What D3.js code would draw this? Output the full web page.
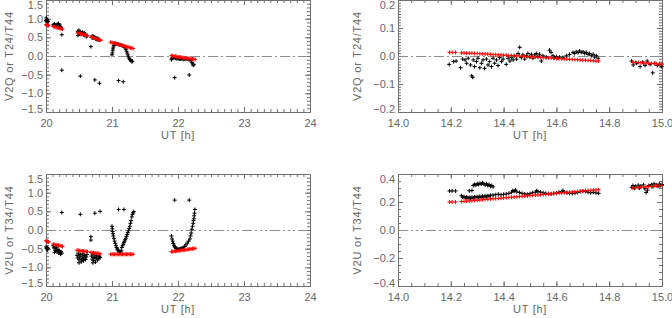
<!DOCTYPE html>
<html>
<head>
<meta charset="utf-8">
<script src="https://cdn.jsdelivr.net/npm/d3@7"></script>
<style>
  body { margin: 0; background: #fff; }
  svg { display: block; }
</style>
</head>
<body>
<svg id="chart" width="672" height="318"></svg>
<script>
// tick labels
const leftXTicks = [20, 21, 22, 23, 24];
const rightXTicks = [14.0, 14.2, 14.4, 14.6, 14.8, 15.0];
const leftYTicks = [-1.5, -1.0, -0.5, 0.0, 0.5, 1.0, 1.5];
const topRightYTicks = [-0.2, -0.1, 0.0, 0.1, 0.2];
const bottomRightYTicks = [-0.4, -0.2, 0.0, 0.2, 0.4];

// [UT hour, ratio]
const blackTL = [
  [20.000,0.95],[20.004,1.02],[20.008,0.93],[20.012,0.98],[20.018,0.91],[20.024,0.96],[20.030,0.92],
  [20.11,0.84],[20.12,0.81],[20.13,0.86],[20.14,0.80],[20.15,0.83],[20.16,0.79],[20.17,0.85],[20.18,0.82],
  [20.19,0.87],[20.20,0.80],[20.21,0.83],[20.22,0.78],[20.23,0.75],
  [20.24,0.57],[20.24,-0.38],
  [20.48,0.66],[20.485,0.55],[20.49,0.62],[20.50,0.69],[20.51,0.60],[20.52,0.63],[20.53,0.58],[20.54,0.61],
  [20.55,0.64],[20.56,0.60],[20.57,0.57],[20.58,0.62],[20.59,0.55],[20.60,0.58],[20.61,0.52],[20.62,0.55],
  [20.52,-0.54],
  [20.68,0.25],[20.69,0.50],[20.70,0.54],[20.71,0.48],[20.72,0.52],[20.73,0.49],[20.74,0.51],[20.75,0.46],
  [20.76,0.48],[20.77,0.44],[20.78,0.46],[20.79,0.47],[20.80,0.43],[20.81,0.44],
  [20.74,-0.64],[20.81,-0.73],
  [21.00,0.03],[21.005,0.08],[21.01,0.14],[21.015,0.19],[21.02,0.24],[21.03,0.28],[21.04,0.31],[21.05,0.33],
  [21.06,0.33],[21.08,0.32],[21.10,0.31],[21.12,0.30],[21.14,0.29],[21.16,0.27],[21.18,0.26],[21.20,0.22],
  [21.21,0.18],[21.22,0.13],[21.23,0.08],[21.24,0.03],[21.25,-0.02],[21.26,-0.06],[21.27,-0.09],[21.28,-0.11],
  [21.29,-0.13],[21.30,-0.15],[21.31,-0.14],
  [21.10,-0.66],[21.17,-0.69],
  [21.90,-0.10],[21.91,-0.06],[21.92,-0.04],[21.94,-0.05],[21.96,-0.06],[21.98,-0.07],[22.00,-0.07],[22.02,-0.08],
  [22.04,-0.08],[22.06,-0.08],[22.08,-0.09],[22.10,-0.08],[22.12,-0.09],[22.14,-0.08],[22.16,-0.09],[22.18,-0.10],
  [22.20,-0.12],[22.21,-0.17],[22.22,-0.21],[22.23,-0.25],[22.24,-0.23],
  [21.95,-0.58],[22.17,-0.51]
];
const redTL = [
  [20.00,0.84],[20.01,0.83],[20.02,0.83],[20.03,0.82],[20.04,0.82],
  [20.11,0.79],[20.13,0.78],[20.15,0.77],[20.17,0.76],[20.19,0.75],[20.21,0.74],[20.23,0.73],[20.25,0.72],
  [20.48,0.62],[20.50,0.61],[20.52,0.60],[20.54,0.59],[20.56,0.58],[20.58,0.57],[20.60,0.56],[20.62,0.55],[20.63,0.54],
  [20.69,0.51],[20.71,0.50],[20.73,0.48],[20.75,0.47],[20.77,0.46],[20.79,0.45],[20.81,0.43],[20.83,0.42],
  [20.98,0.37],[21.00,0.36],[21.02,0.35],[21.04,0.34],[21.06,0.33],[21.08,0.32],[21.10,0.31],[21.12,0.30],
  [21.14,0.29],[21.16,0.28],[21.18,0.27],[21.20,0.26],[21.22,0.25],[21.24,0.24],[21.26,0.23],[21.28,0.22],
  [21.30,0.21],[21.32,0.20],
  [21.90,0.01],[21.92,0.00],[21.94,0.00],[21.96,-0.01],[21.98,-0.02],[22.00,-0.02],[22.02,-0.03],[22.04,-0.03],
  [22.06,-0.04],[22.08,-0.05],[22.10,-0.05],[22.12,-0.06],[22.14,-0.06],[22.16,-0.07],[22.18,-0.07],[22.20,-0.08],
  [22.22,-0.08],[22.24,-0.09],[22.26,-0.09]
];

const blackBL = [
  [20.00,-0.45],[20.008,-0.50],[20.015,-0.47],[20.022,-0.53],[20.03,-0.49],
  [20.11,-0.42],[20.12,-0.48],[20.13,-0.45],[20.13,-0.60],[20.14,-0.55],[20.15,-0.50],[20.16,-0.46],[20.17,-0.58],
  [20.18,-0.52],[20.19,-0.62],[20.20,-0.55],[20.21,-0.60],[20.22,-0.65],[20.23,-0.58],[20.24,-0.62],
  [20.24,0.47],
  [20.47,-0.68],[20.48,-0.75],[20.49,-0.62],[20.50,-0.80],[20.50,-0.88],[20.51,-0.72],[20.52,-0.66],[20.53,-0.78],
  [20.54,-0.85],[20.55,-0.70],[20.56,-0.76],[20.56,-0.64],[20.57,-0.82],[20.58,-0.68],[20.59,-0.74],[20.60,-0.79],
  [20.61,-0.72],[20.62,-0.66],
  [20.52,0.42],
  [20.68,-0.18],[20.68,-0.27],[20.69,-0.70],[20.70,-0.78],[20.71,-0.65],[20.71,-0.88],[20.72,-0.82],[20.73,-0.74],
  [20.74,-0.70],[20.75,-0.86],[20.76,-0.76],[20.77,-0.68],[20.78,-0.80],[20.79,-0.72],[20.80,-0.77],[20.81,-0.70],
  [20.82,-0.74],
  [20.74,0.45],[20.82,0.50],
  [21.00,0.10],[21.005,0.03],[21.01,-0.04],[21.015,-0.10],[21.02,-0.16],[21.03,-0.23],[21.04,-0.30],[21.05,-0.36],
  [21.06,-0.42],[21.07,-0.47],[21.08,-0.51],[21.09,-0.54],[21.10,-0.56],[21.11,-0.58],[21.12,-0.59],[21.13,-0.58],
  [21.14,-0.55],[21.15,-0.47],[21.16,-0.42],[21.17,-0.38],[21.18,-0.34],[21.19,-0.30],[21.20,-0.26],[21.21,-0.22],
  [21.22,-0.17],[21.23,-0.12],[21.24,-0.07],[21.25,-0.02],[21.26,0.04],[21.27,0.10],[21.28,0.18],[21.29,0.25],
  [21.30,0.35],[21.31,0.42],[21.32,0.46],[21.33,0.49],
  [21.10,0.55],[21.18,0.55],
  [21.90,-0.16],[21.91,-0.24],[21.92,-0.30],[21.93,-0.36],[21.94,-0.41],[21.95,-0.45],[21.96,-0.47],[21.97,-0.49],
  [21.98,-0.50],[22.00,-0.51],[22.02,-0.51],[22.04,-0.50],[22.06,-0.49],[22.08,-0.47],[22.10,-0.44],[22.12,-0.40],
  [22.14,-0.35],[22.16,-0.30],[22.18,-0.24],[22.19,-0.16],[22.20,-0.08],[22.21,0.02],[22.22,0.10],[22.23,0.18],
  [22.235,0.25],[22.24,0.30],[22.245,0.38],[22.25,0.45],[22.255,0.55],
  [21.95,0.80],[22.17,0.80]
];
const redBL = [
  [20.00,-0.29],[20.01,-0.30],[20.02,-0.31],[20.03,-0.31],[20.04,-0.32],
  [20.11,-0.38],[20.13,-0.39],[20.15,-0.40],[20.17,-0.40],[20.19,-0.41],[20.21,-0.42],[20.23,-0.43],[20.25,-0.44],
  [20.47,-0.54],[20.49,-0.55],[20.51,-0.55],[20.53,-0.56],[20.55,-0.56],[20.57,-0.57],[20.59,-0.57],[20.61,-0.58],[20.63,-0.58],
  [20.68,-0.60],[20.70,-0.61],[20.72,-0.61],[20.74,-0.62],[20.76,-0.62],[20.78,-0.63],[20.80,-0.63],[20.82,-0.64],
  [20.98,-0.65],[21.00,-0.65],[21.02,-0.65],[21.04,-0.65],[21.06,-0.65],[21.08,-0.65],[21.10,-0.65],[21.12,-0.65],
  [21.14,-0.65],[21.16,-0.65],[21.18,-0.65],[21.20,-0.65],[21.22,-0.65],[21.24,-0.65],[21.26,-0.65],[21.28,-0.65],
  [21.30,-0.65],[21.32,-0.65],
  [21.90,-0.58],[21.92,-0.58],[21.94,-0.57],[21.96,-0.57],[21.98,-0.56],[22.00,-0.56],[22.02,-0.55],[22.04,-0.55],
  [22.06,-0.54],[22.08,-0.54],[22.10,-0.53],[22.12,-0.53],[22.14,-0.52],[22.16,-0.52],[22.18,-0.51],[22.20,-0.51],
  [22.22,-0.50],[22.24,-0.50],[22.26,-0.49]
];

const blackTR = [
  [14.194,-0.030],[14.210,-0.020],[14.220,-0.018],
  [14.237,-0.042],[14.245,-0.011],[14.254,-0.014],[14.260,-0.026],[14.266,-0.008],[14.275,-0.032],[14.279,-0.071],
  [14.283,-0.076],[14.285,-0.014],[14.290,-0.038],[14.297,-0.020],[14.303,-0.008],[14.310,-0.042],[14.316,-0.026],
  [14.322,-0.014],[14.328,-0.044],[14.335,-0.011],[14.341,-0.032],[14.347,-0.020],[14.354,-0.038],[14.360,-0.008],
  [14.366,-0.026],[14.373,-0.014],[14.379,-0.034],[14.385,-0.006],[14.392,-0.020],[14.398,-0.011],[14.410,-0.030],
  [14.417,-0.008],[14.424,-0.018],[14.430,-0.006],[14.436,-0.014],[14.442,0.001],[14.449,-0.011],[14.455,0.009],
  [14.461,0.031],[14.467,-0.006],[14.473,0.004],[14.480,-0.011],[14.486,0.001],[14.492,0.009],[14.499,-0.004],
  [14.505,0.006],[14.511,-0.008],[14.518,0.004],[14.524,0.009],[14.530,-0.002],[14.536,0.006],[14.543,-0.018],
  [14.549,0.001],[14.562,-0.004],[14.574,0.021],[14.580,0.013],[14.587,0.001],[14.593,-0.006],[14.600,-0.002],
  [14.606,-0.008],[14.612,-0.004],[14.625,-0.006],[14.638,0.001],[14.650,0.006],[14.663,0.013],[14.669,0.009],
  [14.675,0.015],[14.682,0.012],[14.688,0.018],[14.694,0.013],[14.701,0.015],[14.707,0.009],[14.713,0.013],
  [14.720,0.006],[14.726,0.009],[14.732,0.001],[14.739,0.006],[14.745,-0.004],[14.751,0.001],[14.758,-0.008],
  [14.885,-0.018],[14.891,-0.032],[14.904,-0.026],[14.917,-0.038],[14.927,-0.022],[14.936,-0.034],[14.944,-0.018],
  [14.955,-0.030],[14.965,-0.060],[14.973,-0.026],[14.982,-0.034],[14.992,-0.030],[14.999,-0.038]
];
const redTR = [
  [14.195,0.013],[14.205,0.013],[14.218,0.013],
  [14.24,0.011],[14.25,0.011],[14.26,0.010],[14.27,0.010],[14.28,0.010],[14.29,0.009],[14.30,0.009],[14.31,0.008],
  [14.32,0.008],[14.33,0.007],[14.34,0.007],[14.35,0.006],[14.36,0.005],[14.37,0.005],[14.38,0.004],[14.39,0.004],
  [14.40,0.003],[14.41,0.003],[14.42,0.002],[14.43,0.001],[14.44,0.001],[14.45,0.000],[14.46,0.000],[14.47,-0.001],
  [14.48,-0.001],[14.49,-0.002],[14.50,-0.003],[14.51,-0.003],[14.52,-0.004],[14.53,-0.004],[14.54,-0.005],
  [14.55,-0.006],[14.56,-0.006],[14.57,-0.007],[14.58,-0.007],[14.59,-0.008],[14.60,-0.009],[14.61,-0.009],
  [14.62,-0.010],[14.63,-0.010],[14.64,-0.011],[14.65,-0.012],[14.66,-0.012],[14.67,-0.013],[14.68,-0.013],
  [14.69,-0.014],[14.70,-0.015],[14.71,-0.015],[14.72,-0.016],[14.73,-0.016],[14.74,-0.017],[14.75,-0.018],[14.76,-0.018],
  [14.89,-0.022],[14.90,-0.023],[14.91,-0.023],[14.92,-0.024],[14.93,-0.025],[14.94,-0.025],[14.95,-0.026],
  [14.96,-0.027],[14.97,-0.027],[14.98,-0.028],[14.99,-0.029],[15.00,-0.029]
];

const blackBR = [
  [14.195,0.279],[14.205,0.279],[14.218,0.279],
  [14.240,0.245],[14.245,0.235],[14.250,0.238],[14.255,0.230],[14.260,0.236],[14.265,0.228],[14.270,0.233],
  [14.275,0.227],[14.280,0.234],[14.285,0.229],[14.290,0.236],[14.295,0.231],[14.300,0.238],[14.305,0.232],
  [14.310,0.240],[14.315,0.234],[14.320,0.241],[14.325,0.236],[14.330,0.243],[14.335,0.238],[14.340,0.245],
  [14.345,0.240],[14.350,0.248],
  [14.270,0.280],[14.280,0.282],
  [14.285,0.318],[14.290,0.326],[14.295,0.320],[14.300,0.330],[14.305,0.325],[14.310,0.333],[14.315,0.328],
  [14.320,0.336],[14.325,0.330],[14.330,0.322],[14.335,0.330],[14.340,0.318],[14.345,0.325],[14.350,0.312],
  [14.355,0.318],[14.360,0.308],
  [14.36,0.250],[14.37,0.252],[14.38,0.256],[14.39,0.252],[14.40,0.255],[14.41,0.258],[14.42,0.262],[14.43,0.270],
  [14.435,0.282],[14.44,0.276],[14.445,0.286],[14.45,0.272],[14.46,0.268],[14.47,0.262],[14.48,0.258],[14.49,0.255],
  [14.50,0.260],[14.51,0.266],[14.52,0.270],[14.525,0.280],[14.53,0.274],[14.54,0.270],[14.55,0.266],[14.56,0.262],
  [14.57,0.260],[14.58,0.258],[14.59,0.262],[14.60,0.264],[14.61,0.270],[14.62,0.274],[14.625,0.282],[14.63,0.272],
  [14.64,0.266],[14.65,0.262],[14.66,0.260],[14.67,0.263],[14.68,0.268],[14.69,0.274],[14.70,0.278],[14.71,0.276],
  [14.72,0.270],[14.73,0.266],[14.74,0.270],[14.75,0.265],[14.76,0.262],
  [14.885,0.305],[14.890,0.318],[14.895,0.298],[14.900,0.312],[14.910,0.320],[14.915,0.300],[14.920,0.315],
  [14.930,0.322],[14.935,0.295],[14.940,0.268],[14.945,0.285],[14.950,0.318],[14.960,0.325],[14.965,0.310],
  [14.970,0.330],[14.980,0.322],[14.985,0.312],[14.990,0.328],[14.995,0.318],[15.000,0.325]
];
const redBR = [
  [14.195,0.200],[14.205,0.200],[14.218,0.200],
  [14.24,0.203],[14.25,0.205],[14.26,0.206],[14.27,0.208],[14.28,0.209],[14.29,0.211],[14.30,0.213],[14.31,0.214],
  [14.32,0.216],[14.33,0.218],[14.34,0.219],[14.35,0.221],[14.36,0.223],[14.37,0.224],[14.38,0.226],[14.39,0.228],
  [14.40,0.229],[14.41,0.231],[14.42,0.232],[14.43,0.234],[14.44,0.236],[14.45,0.237],[14.46,0.239],[14.47,0.241],
  [14.48,0.242],[14.49,0.244],[14.50,0.246],[14.51,0.247],[14.52,0.249],[14.53,0.250],[14.54,0.252],[14.55,0.254],
  [14.56,0.255],[14.57,0.257],[14.58,0.259],[14.59,0.260],[14.60,0.262],[14.61,0.264],[14.62,0.265],[14.63,0.267],
  [14.64,0.268],[14.65,0.270],[14.66,0.272],[14.67,0.273],[14.68,0.275],[14.69,0.277],[14.70,0.278],[14.71,0.280],
  [14.72,0.282],[14.73,0.283],[14.74,0.285],[14.75,0.287],[14.76,0.288],
  [14.89,0.300],[14.90,0.302],[14.91,0.303],[14.92,0.305],[14.93,0.306],[14.94,0.308],[14.95,0.310],[14.96,0.311],
  [14.97,0.313],[14.98,0.315],[14.99,0.316],[15.00,0.318]
];

const W = 264, H = 112;
const axisColor = '#707070', textColor = '#666666', zeroColor = '#8c8c8c';
const font = '"Liberation Sans", Arial, sans-serif';
const plus = 'M-2,0H2M0,-2V2';

const dashDot = '10,3,2,3';
const dashDotDot = '10,3,2,3,2,3,2,3';

const panels = [
  { left: 46, top: 0, xDomain: [20, 24], yDomain: [-1.5, 1.5], xTicks: leftXTicks, xMinor: 0.1,
    xFmt: d3.format('d'), yTicks: leftYTicks, yMinor: 0.1, yTitle: 'V2Q or T24/T44', titleX: 9,
    dash: dashDot, black: blackTL, red: redTL },
  { left: 398, top: 0, xDomain: [14, 15], yDomain: [-0.2, 0.2], xTicks: rightXTicks, xMinor: 0.05,
    xFmt: d3.format('.1f'), yTicks: topRightYTicks, yMinor: 0.01, yTitle: 'V2Q or T24/T44', titleX: 357,
    dash: dashDot, black: blackTR, red: redTR },
  { left: 46, top: 174, xDomain: [20, 24], yDomain: [-1.5, 1.5], xTicks: leftXTicks, xMinor: 0.1,
    xFmt: d3.format('d'), yTicks: leftYTicks, yMinor: 0.1, yTitle: 'V2U or T34/T44', titleX: 9,
    dash: dashDotDot, black: blackBL, red: redBL },
  { left: 398, top: 174, xDomain: [14, 15], yDomain: [-0.4, 0.4], xTicks: rightXTicks, xMinor: 0.05,
    xFmt: d3.format('.1f'), yTicks: bottomRightYTicks, yMinor: 0.05, yTitle: 'V2U or T34/T44', titleX: 357,
    dash: dashDotDot, black: blackBR, red: redBR }
];

const svg = d3.select('#chart');

function minorTicks(dom, step) {
  const n = Math.round((dom[1] - dom[0]) / step);
  return d3.range(n + 1).map(i => +(dom[0] + i * step).toFixed(4));
}

function styleAxis(sel) {
  sel.attr('font-family', font).attr('font-size', 11);
  sel.selectAll('.domain').attr('stroke', axisColor);
  sel.selectAll('line').attr('stroke', axisColor);
  sel.selectAll('text').attr('fill', textColor);
}

function drawPanel(p) {
  const g = svg.append('g').attr('transform', `translate(${p.left},${p.top})`);
  const x = d3.scaleLinear().domain(p.xDomain).range([0, W]);
  const y = d3.scaleLinear().domain(p.yDomain).range([H, 0]);
  const xm = minorTicks(p.xDomain, p.xMinor);
  const ym = minorTicks(p.yDomain, p.yMinor);
  const fy = d3.format('.1f');

  // minor ticks, all four sides
  g.append('g').attr('transform', `translate(0,${H})`)
    .call(d3.axisBottom(x).tickValues(xm).tickSize(-3).tickSizeOuter(0).tickFormat(''))
    .call(styleAxis);
  g.append('g')
    .call(d3.axisTop(x).tickValues(xm).tickSize(-3).tickSizeOuter(0).tickFormat(''))
    .call(styleAxis);
  g.append('g')
    .call(d3.axisLeft(y).tickValues(ym).tickSize(-3).tickSizeOuter(0).tickFormat(''))
    .call(styleAxis);
  g.append('g').attr('transform', `translate(${W},0)`)
    .call(d3.axisRight(y).tickValues(ym).tickSize(-3).tickSizeOuter(0).tickFormat(''))
    .call(styleAxis);

  // major ticks
  g.append('g').attr('transform', `translate(0,${H})`)
    .call(d3.axisBottom(x).tickValues(p.xTicks).tickSize(-5).tickSizeOuter(0).tickPadding(7).tickFormat(p.xFmt))
    .call(styleAxis);
  g.append('g')
    .call(d3.axisTop(x).tickValues(p.xTicks).tickSize(-5).tickSizeOuter(0).tickFormat(''))
    .call(styleAxis);
  const ya = g.append('g')
    .call(d3.axisLeft(y).tickValues(p.yTicks).tickSize(-5).tickSizeOuter(0).tickPadding(3).tickFormat(fy))
    .call(styleAxis);
  g.append('g').attr('transform', `translate(${W},0)`)
    .call(d3.axisRight(y).tickValues(p.yTicks).tickSize(-5).tickSizeOuter(0).tickFormat(''))
    .call(styleAxis);

  // edge labels sit a little inside the frame
  ya.selectAll('.tick text')
    .attr('transform', d => d === p.yDomain[1] ? 'translate(0,4.5)' : d === p.yDomain[0] ? 'translate(0,-3.5)' : null);

  // zero reference line
  g.append('line')
    .attr('x1', 0).attr('x2', W)
    .attr('y1', Math.round(y(0)) + 0.5).attr('y2', Math.round(y(0)) + 0.5)
    .attr('stroke', zeroColor).attr('stroke-width', 1)
    .attr('stroke-dasharray', p.dash);

  // points
  g.append('g').selectAll('path')
    .data(p.black)
    .join('path')
    .attr('d', plus)
    .attr('transform', d => `translate(${x(d[0])},${y(d[1])})`)
    .attr('stroke', '#000').attr('stroke-width', 1).attr('fill', 'none');
  g.append('g').selectAll('path')
    .data(p.red)
    .join('path')
    .attr('d', plus)
    .attr('transform', d => `translate(${x(d[0])},${y(d[1])})`)
    .attr('stroke', '#ff0000').attr('stroke-width', 1).attr('fill', 'none');

  // titles
  g.append('text')
    .attr('x', W / 2).attr('y', H + 27)
    .attr('text-anchor', 'middle')
    .attr('font-family', font).attr('font-size', 11)
    .style('letter-spacing', '0.7px')
    .attr('fill', textColor)
    .text('UT [h]');
  g.append('text')
    .attr('transform', `translate(${p.titleX - p.left},${H / 2}) rotate(-90)`)
    .attr('text-anchor', 'middle').attr('dy', '0.35em')
    .attr('font-family', font).attr('font-size', 11)
    .style('letter-spacing', '0.8px')
    .attr('fill', textColor)
    .text(p.yTitle);
}

panels.forEach(drawPanel);
</script>
</body>
</html>
